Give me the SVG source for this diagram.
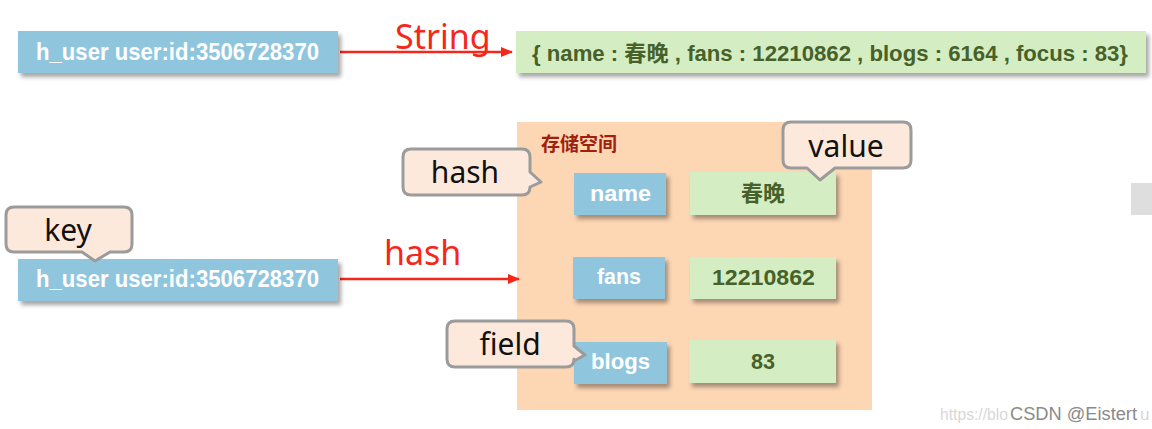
<svg xmlns="http://www.w3.org/2000/svg" width="1152" height="429" viewBox="0 0 1152 429">
<defs>
<filter id="sh" x="-10%" y="-20%" width="130%" height="160%">
<feDropShadow dx="3" dy="4" stdDeviation="2" flood-color="#000" flood-opacity="0.35"/>
</filter>
<marker id="ah" viewBox="0 0 12 10" refX="11" refY="5" markerWidth="12" markerHeight="10" markerUnits="userSpaceOnUse" orient="auto">
<path d="M0,0 L12,5 L0,10 Z" fill="#f5261a"/>
</marker>
<style>
.blue{fill:#8fc6de}
.green{fill:#d5edc2}
.kt{font-family:"Liberation Sans","Noto Sans CJK SC",sans-serif;font-weight:bold;fill:#fff}
.vt{font-family:"Liberation Sans","Noto Sans CJK SC",sans-serif;font-weight:bold;fill:#46622a}
.call{fill:#fde9dc;stroke:#9b9b9b;stroke-width:3;stroke-linejoin:round}
.ct{font-family:"Noto Sans","Liberation Sans",sans-serif;font-size:30px;fill:#111;text-anchor:middle}
.red{font-family:"Noto Sans","Liberation Sans",sans-serif;font-size:34px;fill:#f5261a}
.line{stroke:#f5261a;stroke-width:2.5;fill:none}
</style>
</defs>
<rect width="1152" height="429" fill="#fff"/>
<rect x="1131" y="183" width="21" height="32" fill="#dedede"/>

<g id="storage">
<rect x="517" y="122" width="355" height="288" fill="#fdd6b4"/>
<text x="541" y="151" font-family="Liberation Sans,Noto Sans CJK SC,sans-serif" font-size="19" font-weight="bold" fill="#a0200e">存储空间</text>
</g>

<g id="connectors">
<line class="line" x1="340" y1="52" x2="512" y2="52" marker-end="url(#ah)"/>
<text class="red" x="395" y="49">String</text>
<line class="line" x1="340" y1="279" x2="519" y2="279" marker-end="url(#ah)"/>
<text class="red" x="384" y="265">hash</text>
</g>

<g id="key-top">
<rect class="blue" x="18" y="31" width="320" height="42" filter="url(#sh)"/>
<text class="kt" x="36" y="60" font-size="24" textLength="283" lengthAdjust="spacingAndGlyphs">h_user user:id:3506728370</text>
</g>
<g id="value-string">
<rect class="green" x="516" y="31" width="630" height="42" filter="url(#sh)"/>
<text class="vt" x="532" y="61" font-size="22" textLength="596" lengthAdjust="spacingAndGlyphs">{ name : 春晚 , fans : 12210862 , blogs : 6164 , focus : 83}</text>
</g>

<g id="key-hash">
<rect class="blue" x="18" y="259" width="320" height="42" filter="url(#sh)"/>
<text class="kt" x="36" y="287" font-size="24" textLength="283" lengthAdjust="spacingAndGlyphs">h_user user:id:3506728370</text>
</g>

<g id="field-name">
<rect class="blue" x="574" y="173" width="92" height="42" filter="url(#sh)"/>
<text class="kt" x="590" y="201" font-size="22" textLength="61" lengthAdjust="spacingAndGlyphs">name</text>
</g>
<g id="value-name">
<rect class="green" x="690" y="172" width="146" height="43" filter="url(#sh)"/>
<text class="vt" x="763" y="201" font-size="22" text-anchor="middle">春晚</text>
</g>
<g id="field-fans">
<rect class="blue" x="573" y="257" width="92" height="42" filter="url(#sh)"/>
<text class="kt" x="597" y="284" font-size="22" textLength="44" lengthAdjust="spacingAndGlyphs">fans</text>
</g>
<g id="value-fans">
<rect class="green" x="690" y="257" width="146" height="42" filter="url(#sh)"/>
<text class="vt" x="712" y="285" font-size="22" textLength="103" lengthAdjust="spacingAndGlyphs">12210862</text>
</g>
<g id="field-blogs">
<rect class="blue" x="574" y="342" width="93" height="42" filter="url(#sh)"/>
<text class="kt" x="591" y="369" font-size="22" textLength="59" lengthAdjust="spacingAndGlyphs">blogs</text>
</g>
<g id="value-blogs">
<rect class="green" x="689" y="340" width="147" height="43" filter="url(#sh)"/>
<text class="vt" x="751" y="369" font-size="22" textLength="24" lengthAdjust="spacingAndGlyphs">83</text>
</g>

<g id="callout-hash">
<path class="call" d="M411,149 H522 Q530,149 530,157 V172 L541,182 L530,187 V187 Q530,195 522,195 H411 Q403,195 403,187 V157 Q403,149 411,149 Z"/>
<text class="ct" x="465" y="183">hash</text>
</g>
<g id="callout-value">
<path class="call" d="M791,122 H903 Q911,122 911,130 V160 Q911,168 903,168 H835 L820,180 L807,168 H791 Q783,168 783,160 V130 Q783,122 791,122 Z"/>
<text class="ct" x="846" y="157">value</text>
</g>
<g id="callout-key">
<path class="call" d="M14,207 H124 Q132,207 132,215 V244 Q132,252 124,252 H110 L95,261 L82,252 H14 Q6,252 6,244 V215 Q6,207 14,207 Z"/>
<text class="ct" x="68" y="241">key</text>
</g>
<g id="callout-field">
<path class="call" d="M455,321 H566 Q574,321 574,329 V346 L585,355 L574,361 V359 Q574,367 566,367 H455 Q447,367 447,359 V329 Q447,321 455,321 Z"/>
<text class="ct" x="510" y="355">field</text>
</g>

<g id="watermark">
<text x="940" y="420" font-family="Liberation Sans,sans-serif" font-size="17" fill="#d8d8d8" textLength="68" lengthAdjust="spacingAndGlyphs">https://blo</text>
<text x="1010" y="420" font-family="Liberation Sans,sans-serif" font-size="18" fill="#8a8a8a" textLength="127" lengthAdjust="spacingAndGlyphs">CSDN @Eistert</text>
<text x="1140" y="420" font-family="Liberation Sans,sans-serif" font-size="17" fill="#d8d8d8">u</text>
</g>
</svg>
